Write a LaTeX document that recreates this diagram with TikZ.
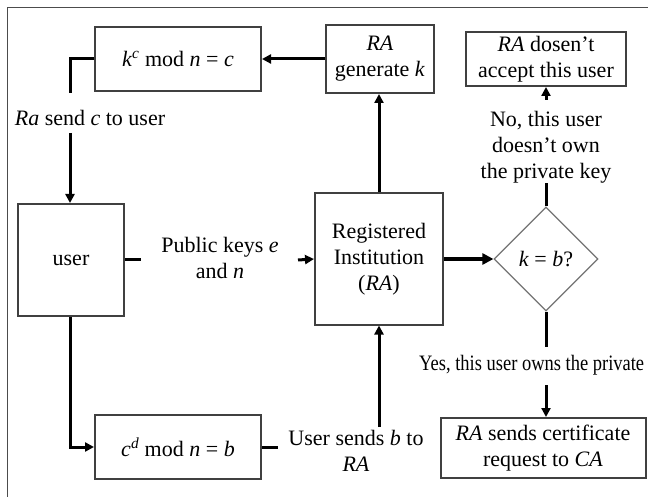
\documentclass[tikz,border=0pt]{standalone}
\usepackage{fontspec}
\setmainfont{Liberation Serif}
\usetikzlibrary{arrows.meta,shapes.geometric}
\tikzset{
  txt/.style={font=\fontsize{22}{26}\selectfont, align=center, inner sep=0pt},
  box/.style={txt, draw=black!75, line width=2pt, fill=white},
  dia/.style={txt, shape=diamond, draw=black!55, line width=1.2pt, minimum width=104pt, minimum height=104pt, inner sep=0pt},
  conn/.style={draw=black, line width=3pt},
  arr/.style={conn, -{Triangle[length=9pt,width=9pt]}},
  bigarr/.style={draw=black, line width=4pt, -{Triangle[length=11pt,width=11pt]}}
}
\begin{document}
\begin{tikzpicture}[x=1pt,y=-1pt]
\useasboundingbox (0,0) rectangle (648,497);
% frame
\draw[black!70, line width=1pt] (7,497) -- (7,8) -- (648,8);

% boxes
\node[box, minimum width=166pt, minimum height=64pt] (kc) at (178,59)
  {\textit{k}\textsuperscript{\textit{c}} mod \textit{n} = \textit{c}};
\node[box, minimum width=108pt, minimum height=68pt] (gen) at (380,59)
  {\textit{RA}\\generate \textit{k}};
\node[box, minimum width=160pt, minimum height=54pt] (rej) at (546,59)
  {\textit{RA} dosen’t\\accept this user};
\node[box, minimum width=106pt, minimum height=112pt] (user) at (71,260) {user};
\node[box, minimum width=128pt, minimum height=131pt] (RI) at (379,259)
  {Registered\\Institution\\(\textit{RA})};
\node[dia] (dm) at (546,259) {\textit{k} = \textit{b}?};
\node[box, minimum width=166pt, minimum height=64pt] (cd) at (178,447)
  {\textit{c}\textsuperscript{\textit{d}} mod \textit{n} = \textit{b}};
\node[box, minimum width=205pt, minimum height=60pt] (cert) at (543,448)
  {\textit{RA} sends certificate\\request to \textit{CA}};

% labels
\node[txt] (tRa) at (90,118) {\textit{Ra} send \textit{c} to user};
\node[txt] (tPub) at (220,258) {Public keys \textit{e}\\and \textit{n}};
\node[txt] (tUsr) at (356,451) {User sends \textit{b} to\\\textit{RA}};
\node[txt] (tNo) at (546,147) {No, this user\\doesn’t own\\the private key};
\node[txt, anchor=west] (tYes) at (419,365) {\scalebox{0.84}[1]{Yes, this user owns the private}};

% connector end points
\coordinate (c1) at (70,93);
\coordinate (c2) at (70,133);
\coordinate (c3) at (141,260);
\coordinate (c4) at (298,260);
\coordinate (c5) at (278,447);
\coordinate (c6) at (379,427);
\coordinate (c7) at (546,183);
\coordinate (c8) at (546,100);
\coordinate (c9) at (546,347);
\coordinate (c10) at (546,385);

% connectors
\draw[arr] (gen.west) -- (kc.east);
\draw[conn] (kc.west) -| (c1);
\draw[arr] (c2) -- (c2 |- user.north);
\draw[conn] (user.east) -- (c3);
\draw[arr] (c4) -- (RI.west);
\draw[arr] (c2 |- user.south) |- (cd.west);
\draw[conn] (cd.east) -- (c5);
\draw[arr] (c6) -- (RI.south);
\draw[arr] (RI.north) -- (RI.north |- gen.south);
\draw[bigarr] (RI.east) -- (dm.west);
\draw[conn] (dm.north) -- (c7);
\draw[arr] (c8) -- (rej.south);
\draw[conn] (dm.south) -- (c9);
\draw[arr] (c10) -- (c10 |- cert.north);
\end{tikzpicture}
\end{document}
